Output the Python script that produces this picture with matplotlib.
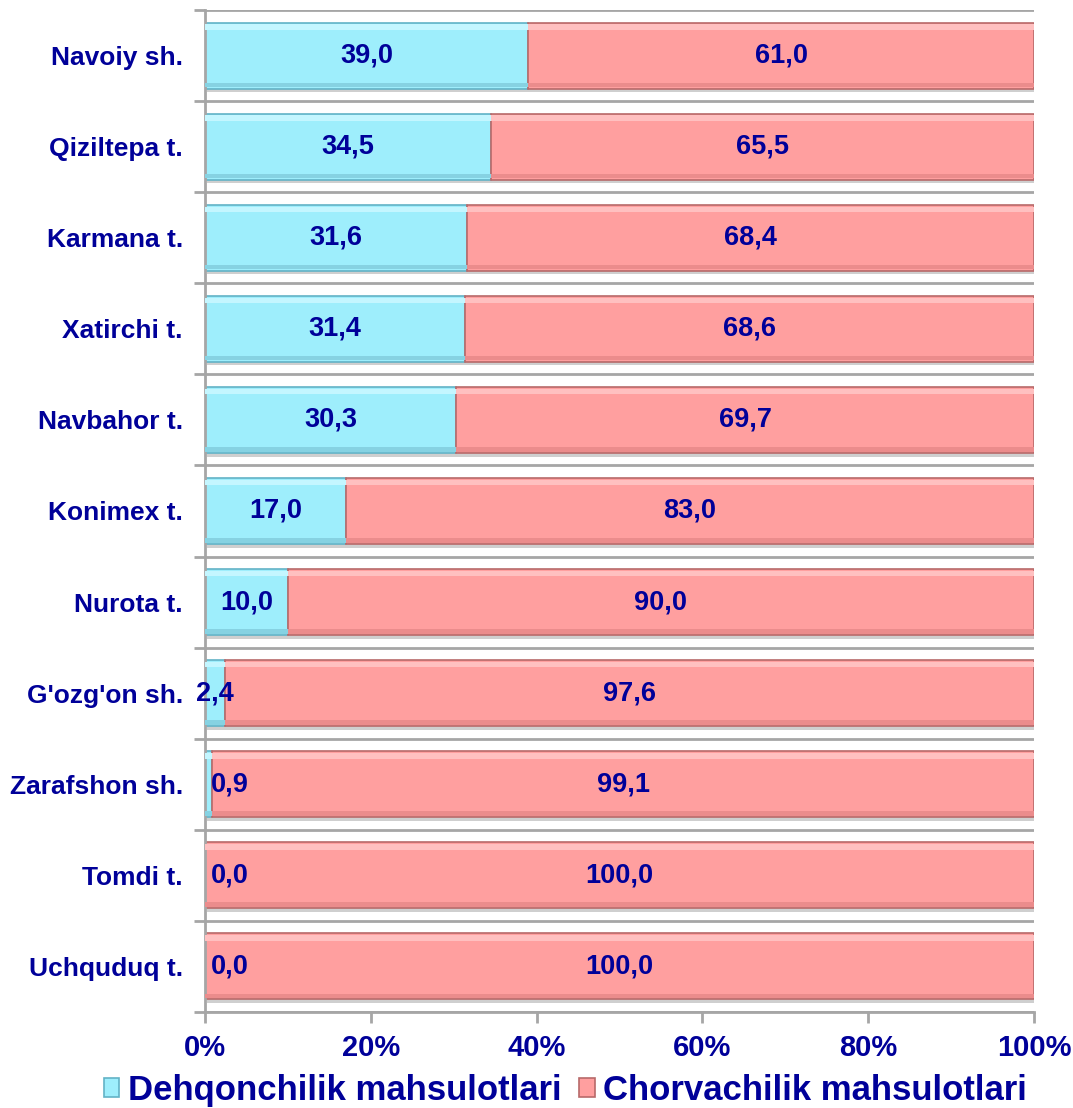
import numpy as np
import matplotlib.pyplot as plt
from matplotlib.ticker import FixedLocator, PercentFormatter

plt.rcParams['font.family'] = ['Liberation Sans', 'DejaVu Sans']
plt.rcParams['font.weight'] = 'bold'

# categories top -> bottom
regions = ['Navoiy sh.', 'Qiziltepa t.', 'Karmana t.', 'Xatirchi t.', 'Navbahor t.',
           'Konimex t.', 'Nurota t.', "G'ozg'on sh.", 'Zarafshon sh.', 'Tomdi t.', 'Uchquduq t.']
dehqon = [39.0, 34.5, 31.6, 31.4, 30.3, 17.0, 10.0, 2.4, 0.9, 0.0, 0.0]
chorva = [61.0, 65.5, 68.4, 68.6, 69.7, 83.0, 90.0, 97.6, 99.1, 100.0, 100.0]
x_ticks = [0, 20, 40, 60, 80, 100]

navy = '#000099'
cyan = '#9eeefc'
pink = '#ff9f9f'

fig = plt.figure(figsize=(10.73, 11.08), dpi=100)
ax = fig.add_axes([205/1073, 1 - 1012/1108, (1034 - 205)/1073, (1012 - 10)/1108])

n = len(regions)
y = np.arange(n)[::-1]
h = 0.725
d = np.array(dehqon)
c = np.array(chorva)

# soft shadow under bars
ax.barh(y - 0.04, d + c, height=h, left=0.3, color='#cfcfcf', zorder=1)
b1 = ax.barh(y, d, height=h, color=cyan, edgecolor='#62b3c6', linewidth=1.2, zorder=2,
             label='Dehqonchilik mahsulotlari')
b2 = ax.barh(y, c, left=d, height=h, color=pink, edgecolor='#b86a6a', linewidth=1.2, zorder=2,
             label='Chorvachilik mahsulotlari')
# bevel look: light strip on top, darker strip at bottom
ax.barh(y + h/2 - 0.05, d, height=0.06, color='#c4f6ff', linewidth=0, zorder=3)
ax.barh(y + h/2 - 0.05, c, left=d, height=0.06, color='#ffc0c0', linewidth=0, zorder=3)
ax.barh(y - h/2 + 0.04, d, height=0.05, color='#86d2e2', linewidth=0, zorder=3)
ax.barh(y - h/2 + 0.04, c, left=d, height=0.05, color='#eb8c8c', linewidth=0, zorder=3)

for yi, dv, cv in zip(y, d, c):
    txt = f'{dv:.1f}'.replace('.', ',')
    if dv < 2:
        ax.text(0.7, yi, txt, ha='left', va='center', color=navy, fontsize=19.5, zorder=5)
    else:
        ax.text(dv/2, yi, txt, ha='center', va='center', color=navy, fontsize=19.5, zorder=5)
    ax.text(dv + cv/2, yi, f'{cv:.1f}'.replace('.', ','), ha='center', va='center',
            color=navy, fontsize=19.5, zorder=5)

ax.set_xlim(0, 100)
ax.set_ylim(-0.5, n - 0.5)

# category boundary lines
for b in np.arange(-0.5, n, 1.0):
    ax.axhline(b, color='#a6a6a6', linewidth=2, zorder=0)

ax.set_yticks(y)
ax.set_yticklabels(regions, fontsize=19, color=navy)
ax.yaxis.set_minor_locator(FixedLocator(np.arange(-0.5, n, 1.0)))
ax.tick_params(axis='y', which='major', length=0, pad=16)
ax.tick_params(axis='y', which='minor', length=8, width=2, color='#a6a6a6')

ax.set_xticks(x_ticks)
ax.xaxis.set_major_formatter(PercentFormatter(decimals=0))
ax.tick_params(axis='x', length=8, width=2, color='#a6a6a6', labelsize=21,
               labelcolor=navy, pad=8)

for s in ['top', 'right']:
    ax.spines[s].set_visible(False)
ax.spines['left'].set_color('#a6a6a6')
ax.spines['left'].set_linewidth(2)
ax.spines['bottom'].set_color('#a6a6a6')
ax.spines['bottom'].set_linewidth(2)

leg = fig.legend(handles=[b1, b2], loc='center', bbox_to_anchor=(0.527, 0.016), ncol=2,
                 frameon=False, fontsize=25, handlelength=0.45, handleheight=0.45,
                 handletextpad=0.25, columnspacing=0.5, borderpad=0)
for t in leg.get_texts():
    t.set_color(navy)

plt.savefig('out.png', dpi=100, facecolor='white')
